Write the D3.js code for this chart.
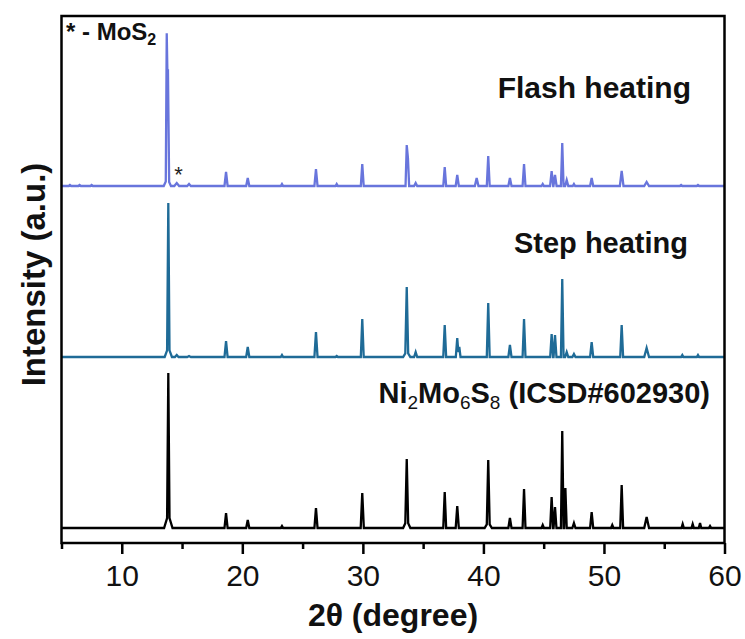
<!DOCTYPE html>
<html>
<head>
<meta charset="utf-8">
<script src="https://cdn.jsdelivr.net/npm/d3@7"></script>
<style>
  body { margin: 0; background: #fff; }
  text { font-family: "Liberation Sans", Arial, sans-serif; }
  .label { font-weight: bold; fill: #111; }
</style>
</head>
<body>
<svg width="745" height="639"></svg>
<script>
// peaks: [2theta, height above baseline, half width]
const refPeaks = [
  [13.86, 141, 0.1], [13.86, 14, 0.35], [18.65, 15, 0.13], [20.45, 8, 0.13], [23.29, 2, 0.1],
  [26.11, 20, 0.13], [29.95, 35, 0.13], [33.64, 61, 0.12], [33.64, 8, 0.3], [36.79, 36, 0.12],
  [37.83, 22, 0.13], [40.4, 62, 0.12], [40.4, 6, 0.3], [42.2, 10, 0.13], [43.37, 39, 0.12],
  [44.92, 3, 0.1], [45.66, 31, 0.12], [45.94, 21, 0.12], [46.54, 97, 0.11], [46.8, 40, 0.11],
  [47.51, 5, 0.13], [48.98, 16, 0.13], [50.69, 3, 0.1], [51.47, 43, 0.12], [53.54, 11, 0.2],
  [56.53, 4, 0.1], [57.36, 4, 0.1], [57.97, 5, 0.1], [58.8, 2, 0.1]
];
const stepPeaks = [
  [13.86, 144, 0.1], [13.86, 10, 0.3], [14.56, 2, 0.15], [15.58, 1, 0.15], [18.65, 16, 0.13],
  [20.45, 10, 0.13], [23.29, 2, 0.1], [26.11, 25, 0.13], [27.83, 1, 0.1], [29.95, 38, 0.12],
  [33.64, 64, 0.12], [33.64, 6, 0.3], [34.38, 5, 0.13], [36.79, 32, 0.12], [37.83, 19, 0.12],
  [38.0, 10, 0.1], [40.4, 54, 0.12], [42.2, 12, 0.13], [43.37, 38, 0.12], [45.66, 23, 0.12],
  [45.94, 22, 0.12], [46.54, 78, 0.11], [46.91, 5, 0.13], [47.51, 3, 0.13], [48.98, 15, 0.13],
  [51.47, 32, 0.12], [53.54, 9, 0.2], [56.5, 2, 0.1], [57.8, 2, 0.1]
];
const flashPeaks = [
  [5.7, 1, 0.1], [6.5, 1, 0.1], [7.5, 1, 0.1],
  [13.73, 146, 0.08], [13.83, 110, 0.1], [13.78, 8, 0.3], [14.56, 3, 0.2], [15.58, 2, 0.15],
  [18.65, 14, 0.13], [20.45, 8, 0.13], [23.29, 2, 0.1], [26.11, 17, 0.13], [27.83, 2, 0.1],
  [29.95, 22, 0.12], [33.64, 41, 0.1], [33.74, 28, 0.1], [34.38, 3, 0.13], [36.79, 19, 0.12],
  [37.83, 11, 0.13], [39.44, 8, 0.15], [40.4, 30, 0.12], [42.2, 8, 0.13], [43.37, 22, 0.12],
  [44.92, 2, 0.1], [45.66, 15, 0.13], [45.94, 11, 0.13], [46.54, 43, 0.11], [46.91, 6, 0.13],
  [47.51, 2, 0.1], [48.98, 8, 0.13], [51.47, 15, 0.15], [53.54, 4, 0.2], [56.4, 1, 0.1],
  [57.8, 1, 0.1]
];

const seriesNames = ['Ni2Mo6S8 (ICSD#602930)', 'Step heating', 'Flash heating'];
const seriesOffsets = [0, 171, 342];
const seriesColors = ['#000000', '#1f6b97', '#6875dc'];

const majorTicks = [10, 20, 30, 40, 50, 60];
const minorTicks = [5, 15, 25, 35, 45, 55];

const svg = d3.select('svg');
const width = +svg.attr('width');
const height = +svg.attr('height');

// turn a peak list into the vertices of a line (sum of triangles)
const toLine = (peaks, offset, x0, x1) => {
  const xs = [x0, x1];
  peaks.forEach(p => xs.push(p[0] - p[2], p[0], p[0] + p[2]));
  return xs.filter(x => x >= x0 && x <= x1)
    .sort((a, b) => a - b)
    .map(x => [x, offset + d3.sum(peaks, p => p[1] * Math.max(0, 1 - Math.abs(x - p[0]) / p[2]))]);
};

const render = () => {
  const margin = { top: 16, right: 20.5, bottom: 96, left: 61.5 };
  const innerWidth = width - margin.left - margin.right;
  const innerHeight = height - margin.top - margin.bottom;

  const xScale = d3.scaleLinear()
    .domain([5, 60])
    .range([0, innerWidth]);

  const yScale = d3.scaleLinear()
    .domain([-15, 512])
    .range([innerHeight, 0]);

  const g = svg.append('g')
    .attr('transform', `translate(${margin.left}, ${margin.top})`);

  g.append('clipPath').attr('id', 'clip')
    .append('rect').attr('width', innerWidth).attr('height', innerHeight);

  const line = d3.line()
    .x(d => xScale(d[0]))
    .y(d => yScale(d[1]));

  const allPeaks = [refPeaks, stepPeaks, flashPeaks];
  g.append('g').attr('clip-path', 'url(#clip)')
    .selectAll('path').data(allPeaks)
    .enter().append('path')
      .attr('d', (d, i) => line(toLine(d, seriesOffsets[i], 5, 60)))
      .attr('fill', 'none')
      .attr('stroke', (d, i) => seriesColors[i])
      .attr('stroke-width', 2.3)
      .attr('stroke-linejoin', 'miter');

  // axes
  const xAxis = d3.axisBottom(xScale)
    .tickValues(majorTicks)
    .tickSize(11)
    .tickPadding(11)
    .tickFormat(d3.format('d'));

  const xAxisG = g.append('g').call(xAxis)
    .attr('transform', `translate(0, ${innerHeight})`);
  xAxisG.select('.domain').remove();
  xAxisG.selectAll('line').attr('stroke-width', 2.5);
  xAxisG.selectAll('text')
    .attr('font-size', 30)
    .attr('font-family', '"Liberation Sans", Arial, sans-serif')
    .attr('fill', '#111');

  const minorG = g.append('g')
    .call(d3.axisBottom(xScale).tickValues(minorTicks).tickSize(6).tickFormat(''))
    .attr('transform', `translate(0, ${innerHeight})`);
  minorG.select('.domain').remove();
  minorG.selectAll('line').attr('stroke-width', 2.5);

  g.append('rect')
    .attr('width', innerWidth)
    .attr('height', innerHeight)
    .attr('fill', 'none')
    .attr('stroke', '#000')
    .attr('stroke-width', 2.5);

  // axis labels
  svg.append('text')
    .attr('class', 'label')
    .attr('text-anchor', 'middle')
    .attr('transform', `translate(45, ${margin.top + innerHeight / 2 - 5}) rotate(-90)`)
    .attr('font-size', 33)
    .text('Intensity (a.u.)');

  svg.append('text')
    .attr('class', 'label')
    .attr('text-anchor', 'middle')
    .attr('x', margin.left + innerWidth / 2)
    .attr('y', 626)
    .attr('font-size', 32)
    .text('2\u03b8 (degree)');

  // series labels
  svg.append('text')
    .attr('class', 'label')
    .attr('text-anchor', 'end')
    .attr('x', 691).attr('y', 98)
    .attr('font-size', 30)
    .text(seriesNames[2]);

  svg.append('text')
    .attr('class', 'label')
    .attr('text-anchor', 'end')
    .attr('x', 688).attr('y', 253)
    .attr('font-size', 29)
    .text(seriesNames[1]);

  const ni = svg.append('text')
    .attr('class', 'label')
    .attr('text-anchor', 'end')
    .attr('x', 710).attr('y', 403)
    .attr('font-size', 29);
  [['Ni', 0], ['2', 1], ['Mo', 0], ['6', 1], ['S', 0], ['8', 1], [' (ICSD#602930)', 0]]
    .forEach(([t, sub], i, arr) => {
      const prevSub = i > 0 ? arr[i - 1][1] : 0;
      ni.append('tspan')
        .attr('dy', sub && !prevSub ? 6 : (!sub && prevSub ? -6 : 0))
        .attr('font-size', sub ? 19 : 29)
        .attr('font-weight', sub ? 'normal' : 'bold')
        .text(t);
    });

  const mos = svg.append('text')
    .attr('class', 'label')
    .attr('x', 66).attr('y', 40)
    .attr('font-size', 24);
  mos.append('tspan').text('* - MoS');
  mos.append('tspan').attr('dy', 5).attr('font-size', 16).text('2');

  // asterisk over the MoS2 peak of the flash heating pattern
  g.append('text')
    .attr('text-anchor', 'middle')
    .attr('x', xScale(14.7))
    .attr('y', yScale(seriesOffsets[2] + 2) - 2)
    .attr('font-size', 22)
    .attr('fill', '#222')
    .text('*');
};

render();
</script>
</body>
</html>
